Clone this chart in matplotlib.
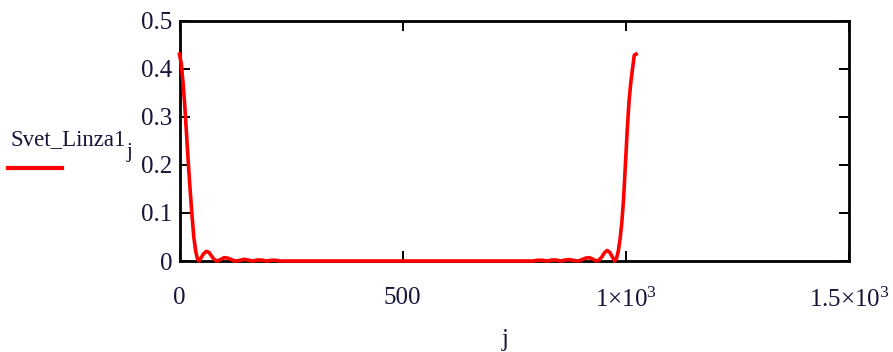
import matplotlib
matplotlib.use("Agg")
import matplotlib.pyplot as plt

# ---- data ----
j_left = [0, 4, 8, 12, 16, 20, 24, 28, 32, 36, 40, 44, 48, 54, 60, 66, 72, 78, 84,
          92, 100, 108, 116, 124, 134, 144, 154, 164, 174, 184, 194, 206, 216, 226, 240]
v_left = [0.43, 0.41, 0.37, 0.32, 0.26, 0.20, 0.145, 0.095, 0.05, 0.022, 0.005, 0.0,
          0.006, 0.015, 0.02, 0.018, 0.01, 0.003, 0.0,
          0.003, 0.007, 0.006, 0.003, 0.0, 0.001, 0.0035, 0.002, 0.0, 0.002, 0.002,
          0.0, 0.0015, 0.0015, 0.0, 0.0]
j_mid = [400, 600]
v_mid = [0.0, 0.0]
j_right = [792, 802, 812, 824, 834, 844, 854, 864, 874, 884, 894, 902, 910, 918, 926,
           934, 940, 946, 952, 958, 964, 970, 975, 979, 983, 987, 991, 995, 999, 1003,
           1007, 1011, 1015, 1019, 1023]
v_right = [0.0, 0.0015, 0.0015, 0.0, 0.002, 0.002, 0.0, 0.002, 0.003, 0.001, 0.0,
           0.003, 0.006, 0.007, 0.004, 0.0, 0.002, 0.008, 0.017, 0.022, 0.018, 0.008,
           0.0, 0.005, 0.02, 0.045, 0.08, 0.13, 0.20, 0.27, 0.33, 0.37, 0.40, 0.428, 0.43]

x_ticks = [0, 500, 1000, 1500]
x_ticklabels = ["0", "500", r"$1{\times}10^{3}$", r"$1.5{\times}10^{3}$"]
y_ticks = [0, 0.1, 0.2, 0.3, 0.4, 0.5]
y_ticklabels = ["0", "0.1", "0.2", "0.3", "0.4", "0.5"]
series_name = "Svet_Linza1"
x_label = "j"

plt.rcParams["font.family"] = ["Liberation Serif", "DejaVu Serif"]
plt.rcParams["mathtext.fontset"] = "custom"
plt.rcParams["mathtext.rm"] = "Liberation Serif"
plt.rcParams["mathtext.it"] = "Liberation Serif:italic"

fig = plt.figure(figsize=(8.93, 3.52), dpi=100)
ax = fig.add_axes([179.5 / 893, 1 - 261 / 352, (849 - 179.5) / 893, (261 - 20.5) / 352])

xs = j_left + j_mid + j_right
ys = v_left + v_mid + v_right
ax.plot(xs, ys, color="#ff0000", lw=2.6, clip_on=False, zorder=5, solid_joinstyle="round")

ax.set_xlim(0, 1500)
ax.set_ylim(0, 0.5)
ax.set_xticks(x_ticks)
ax.set_xticklabels(x_ticklabels)
ax.set_yticks(y_ticks)
ax.set_yticklabels(y_ticklabels)

lab_col = "#15153a"
ax.tick_params(axis="both", direction="in", length=7, width=1.4, color="black",
               labelsize=18, labelcolor=lab_col, top=True, right=True)
ax.tick_params(axis="x", pad=19)
ax.tick_params(axis="y", pad=5)
for s in ax.spines.values():
    s.set_linewidth(2)
    s.set_color("black")

fig.text(505 / 893, 1 - 340 / 352, x_label, ha="center", va="center", fontsize=18,
         color=lab_col)

# legend-like label at the left
fig.text(11 / 893, 1 - 140 / 352, series_name, ha="left", va="center", fontsize=16.5,
         color=lab_col)
fig.text(127 / 893, 1 - 153 / 352, "j", ha="left", va="center", fontsize=15,
         color=lab_col)
fig.add_artist(plt.Line2D([8 / 893, 62 / 893], [1 - 168 / 352, 1 - 168 / 352],
                          color="#ff0000", lw=3, transform=fig.transFigure))

fig.savefig("out.png", dpi=100)
